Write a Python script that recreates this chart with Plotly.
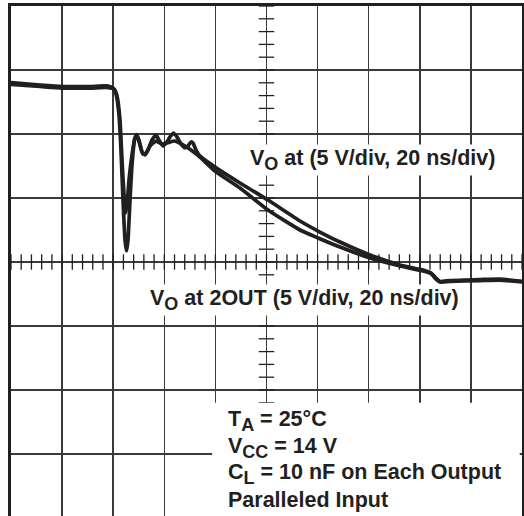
import numpy as np
import plotly.graph_objects as go

# Time (ns) and voltage (V) readings; 20 ns/div, 5 V/div, centre line = 0 V
t_a = [0, 11.35, 19.96, 30.92, 37.96, 39.92, 41.10, 42.27, 43.05, 43.84, 44.62, 45.21, 45.79,
       46.58, 47.36, 48.34, 49.12, 50.10, 51.27, 52.45, 53.62, 55.19, 56.75, 57.93, 59.49,
       61.06, 62.23, 63.60, 64.97, 66.54, 68.10, 69.28, 70.45, 71.23, 72.41, 73.97, 79.84,
       89.63, 100.59, 113.11, 120.16, 128.77, 140.51, 152.25, 161.25, 164.38, 166.34, 167.91,
       171.82, 183.56, 191.39, 200]
v_a = [14.02, 13.83, 13.71, 13.71, 13.75, 13.59, 13.13, 11.48, 8.75, 4.84, 1.72, 0.86, 1.72,
       4.84, 7.58, 9.53, 9.96, 9.53, 8.59, 8.36, 8.75, 9.53, 9.92, 9.53, 9.06,
       9.38, 9.77, 10.08, 9.77, 9.22, 8.91, 9.06, 9.38, 9.30, 8.75, 8.28, 7.42,
       6.17, 4.84, 3.20, 2.42, 1.56, 0.55, -0.23, -0.63, -0.86, -1.25, -1.52,
       -1.45, -1.37, -1.33, -1.52]

t_b = [0, 11.35, 19.96, 30.92, 37.96, 40.31, 41.49, 42.66, 43.44, 44.23, 44.81, 45.40, 46.19,
       47.36, 48.53, 49.32, 50.49, 51.66, 52.84, 54.40, 56.75, 59.10, 61.06, 64.19, 68.10,
       72.02, 73.97, 79.84, 89.63, 100.59, 113.11, 120.16, 128.77, 140.51, 152.25, 161.25,
       164.38, 166.34, 167.91, 171.82, 183.56, 191.39, 200]
v_b = [13.87, 13.71, 13.59, 13.59, 13.63, 13.52, 12.97, 11.09, 7.97, 5.23, 3.83, 4.45, 6.41,
       8.36, 9.69, 9.84, 9.14, 8.44, 8.52, 9.06, 9.45, 9.22, 9.30, 9.45, 9.06,
       8.52, 8.20, 7.11, 5.78, 4.06, 2.50, 1.88, 1.17, 0.31, -0.31, -0.70,
       -0.90, -1.33, -1.56, -1.52, -1.45, -1.41, -1.56]


def sub(s):
    return '<sub><span style="font-size:18px">' + s + '</span></sub>'


label_top = "<b>V" + sub("O") + " at (5 V/div, 20 ns/div)</b>"
label_mid = "<b>V" + sub("O") + " at 2OUT (5 V/div, 20 ns/div)</b>"
cond_lines = ["<b>T" + sub("A") + " = 25°C</b>",
              "<b>V" + sub("CC") + " = 14 V</b>",
              "<b>C" + sub("L") + " = 10 nF on Each Output</b>",
              "<b>Paralleled Input</b>"]

INK = "#231f20"
FONT = "Liberation Sans, Arial, sans-serif"

fig = go.Figure()

# centre-line minor ticks (5 per division)
xt = np.arange(0, 200.1, 4)
yt = np.arange(-20, 20.1, 1)
fig.add_trace(go.Scatter(x=xt, y=np.zeros_like(xt), mode="markers",
                         marker=dict(symbol="line-ns", size=11, line=dict(width=1.3, color=INK)),
                         hoverinfo="skip", showlegend=False))
fig.add_trace(go.Scatter(x=np.full_like(yt, 100.0), y=yt, mode="markers",
                         marker=dict(symbol="line-ew", size=11, line=dict(width=1.3, color=INK)),
                         hoverinfo="skip", showlegend=False))

for t, v in ((t_a, v_a), (t_b, v_b)):
    fig.add_trace(go.Scatter(x=t, y=v, mode="lines",
                             line=dict(color=INK, width=3.7, shape="spline", smoothing=0.5),
                             showlegend=False))

# white area behind the conditions block
fig.add_shape(type="rect", xref="x", yref="y", x0=78.7, x1=199.1, y0=-21, y1=-11.0,
              fillcolor="white", line=dict(width=0), layer="above")

fig.add_annotation(x=92.6, y=7.95, xref="x", yref="y", text=label_top, showarrow=False,
                   xanchor="left", yanchor="middle", bgcolor="white",
                   font=dict(family=FONT, size=21.5, color=INK))
fig.add_annotation(x=53.8, y=-3.0, xref="x", yref="y", text=label_mid, showarrow=False,
                   xanchor="left", yanchor="middle", bgcolor="white",
                   font=dict(family=FONT, size=21.5, color=INK))
for txt, yy in zip(cond_lines, [-12.45, -14.5, -16.55, -18.6]):
    fig.add_annotation(x=84.2, y=yy, xref="x", yref="y", text=txt, showarrow=False,
                       xanchor="left", yanchor="middle",
                       font=dict(family=FONT, size=21.5, color=INK))

fig.update_xaxes(range=[0, 200], dtick=20, tick0=0, showgrid=True, gridcolor="#3a3a3a",
                 gridwidth=1.5, zeroline=False, showticklabels=False, ticks="",
                 side="top", showline=True, linewidth=2.6, linecolor=INK, mirror=False)
fig.update_yaxes(range=[-19.84375, 20], dtick=5, tick0=0, showgrid=True, gridcolor="#3a3a3a",
                 gridwidth=1.5, zeroline=False, showticklabels=False, ticks="",
                 showline=True, linewidth=2.6, linecolor=INK, mirror=True)

fig.update_layout(width=524, height=516, margin=dict(l=11, r=2, t=6, b=0),
                  plot_bgcolor="white", paper_bgcolor="white", showlegend=False)

fig.write_html("out.html", config={"displayModeBar": False, "staticPlot": True},
               post_script="document.body.style.margin='0';document.body.style.overflow='hidden';")
